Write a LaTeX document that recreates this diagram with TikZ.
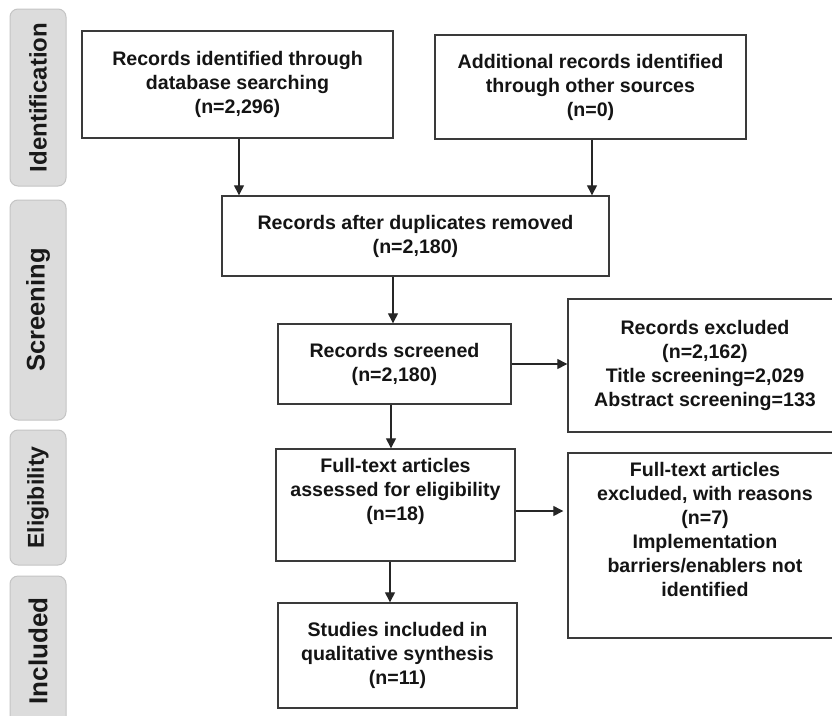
\documentclass[tikz,border=0pt]{standalone}
\usepackage{fontspec}
\setmainfont{Liberation Sans}
\usetikzlibrary{arrows.meta}
\definecolor{boxline}{HTML}{3A3A3A}
\definecolor{stagefill}{HTML}{DCDCDC}
\definecolor{stageline}{HTML}{C4C4C4}
\tikzset{
  flowbox/.style={draw=boxline, line width=1.4pt, fill=white, align=center,
    inner sep=0pt, font=\fontsize{19.6}{24}\selectfont\bfseries, text=black!92},
  stagebar/.style={draw=stageline, line width=1pt, fill=stagefill, rounded corners=8pt,
    inner sep=0pt, font=\fontsize{24}{28}\selectfont\bfseries, text=black!90},
  flowarrow/.style={draw=black!85, line width=1.3pt, -{Triangle[length=10pt,width=10pt]}}
}
\begin{document}
\begin{tikzpicture}[x=1pt,y=-1pt]
\useasboundingbox (0,0) rectangle (832,715);
\clip (0,0) rectangle (832,715);
% stage bars
\node[stagebar, minimum width=56pt, minimum height=177pt] (s1) at (38,97.5) {\rotatebox{90}{Identification}};
\node[stagebar, minimum width=56pt, minimum height=220pt, font=\fontsize{25.5}{28}\selectfont\bfseries] (s2) at (38,310) {\rotatebox{90}{Screening}};
\node[stagebar, minimum width=56pt, minimum height=135pt, font=\fontsize{23}{28}\selectfont\bfseries] (s3) at (38,497.5) {\rotatebox{90}{Eligibility}};
\node[stagebar, minimum width=56pt, minimum height=150pt, font=\fontsize{26}{28}\selectfont\bfseries] (s4) at (38,651) {\rotatebox{90}{Included}};
% boxes
\node[flowbox, minimum width=311pt, minimum height=107pt] (A) at (237.5,84.5)
  {Records identified through\\database searching\\(n=2,296)};
\node[flowbox, minimum width=311pt, minimum height=104pt] (B) at (590.5,87)
  {Additional records identified\\through other sources\\(n=0)};
\node[flowbox, minimum width=387pt, minimum height=80pt] (C) at (415.5,236)
  {Records after duplicates removed\\(n=2,180)};
\node[flowbox, minimum width=233pt, minimum height=80pt] (D) at (394.5,364)
  {Records screened\\(n=2,180)};
\node[flowbox, minimum width=239pt, minimum height=112pt] (E) at (395.5,505)
  {Full-text articles\\assessed for eligibility\\(n=18)\\[8pt]};
\node[flowbox, minimum width=239pt, minimum height=105pt] (F) at (397.5,655.5)
  {Studies included in\\qualitative synthesis\\(n=11)};
\node[flowbox, minimum width=274pt, minimum height=133pt] (G) at (705,365.5)
  {Records excluded\\(n=2,162)\\Title screening=2,029\\Abstract screening=133};
\node[flowbox, minimum width=274pt, minimum height=185pt] (H) at (705,545.5)
  {Full-text articles\\excluded, with reasons\\(n=7)\\Implementation\\barriers/enablers not\\identified\\[8pt]};
% arrows
\draw[flowarrow] ([xshift=1.5pt]A.south) -- ([xshift=1.5pt]A.south |- C.north);
\draw[flowarrow] ([xshift=1.5pt]B.south) -- ([xshift=1.5pt]B.south |- C.north);
\draw[flowarrow] ([xshift=-1.5pt]D.north |- C.south) -- ([xshift=-1.5pt]D.north);
\draw[flowarrow] ([xshift=-3.5pt]D.south) -- ([xshift=-3.5pt]D.south |- E.north);
\draw[flowarrow] ([xshift=-5.5pt]E.south) -- ([xshift=-5.5pt]E.south |- F.north);
\draw[flowarrow] (D.east) -- (D.east -| G.west);
\draw[flowarrow] ([yshift=-6pt]E.east) -- ([yshift=-6pt,xshift=-4pt]E.east -| H.west);
\end{tikzpicture}
\end{document}
